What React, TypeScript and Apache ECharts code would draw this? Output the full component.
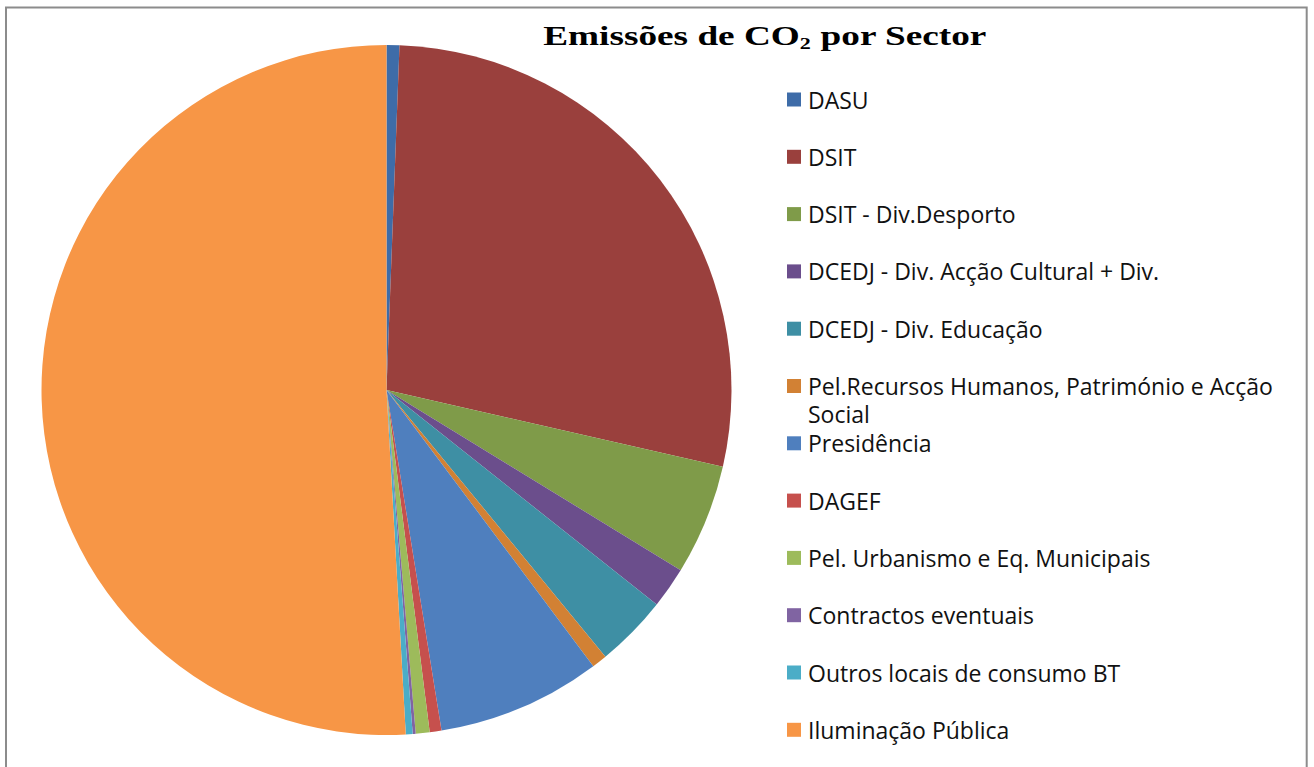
import React, { useEffect, useRef } from "react";
import * as echarts from "echarts";

// Sector names, in drawing order (clockwise from 12 o'clock)
const sectors: string[] = [
  "DASU",
  "DSIT",
  "DSIT - Div.Desporto",
  "DCEDJ - Div. Acção Cultural + Div.",
  "DCEDJ - Div. Educação",
  "Pel.Recursos Humanos, Património e Acção Social",
  "Presidência",
  "DAGEF",
  "Pel. Urbanismo e Eq. Municipais",
  "Contractos eventuais",
  "Outros locais de consumo BT",
  "Iluminação Pública",
];

// Share of CO2 emissions per sector (%)
const emissions: number[] = [
  0.6, 27.97, 5.18, 1.93, 3.38, 0.71, 7.68, 0.55, 0.65, 0.14, 0.32, 50.89,
];

const sliceColors: string[] = [
  "#3E6CA8",
  "#9A403D",
  "#7F9B49",
  "#6B4E8C",
  "#3E8FA4",
  "#D28134",
  "#4F7FBE",
  "#C6504D",
  "#9DBB5B",
  "#8064A2",
  "#4BADC7",
  "#F79646",
];

const WRAPPED = "Pel.Recursos Humanos, Património e Acção Social";

export default function App() {
  const ref = useRef<HTMLDivElement>(null);

  useEffect(() => {
    if (!ref.current) return;
    const chart = echarts.init(ref.current, undefined, { renderer: "svg" });
    const legendFont = "'Open Sans', Lato, sans-serif";
    const serif = "'Liberation Serif', 'Times New Roman', serif";
    chart.setOption({
      animation: false,
      backgroundColor: "#ffffff",
      legend: {
        orient: "vertical",
        left: 787,
        top: 88,
        padding: 0,
        itemWidth: 14,
        itemHeight: 14,
        itemGap: 34.3,
        icon: "rect",
        selectedMode: false,
        data: sectors,
        formatter: (name: string) =>
          name === WRAPPED ? "Pel.Recursos Humanos, Património e Acção" : name,
        textStyle: {
          fontFamily: legendFont,
          fontSize: 23,
          lineHeight: 23,
          color: "#111111",
          padding: [0, 0, 0, 2],
        },
      },
      graphic: [
        {
          type: "rect",
          silent: true,
          z: 100,
          shape: { x: 6, y: 7.5, width: 1300.7, height: 800 },
          style: { fill: "none", stroke: "#8c8c8c", lineWidth: 2 },
        },
        {
          type: "text",
          x: 765,
          y: 36,
          scaleX: 1.38,
          silent: true,
          style: {
            text: "{a|Emissões de CO}{s|2}{a| por Sector}",
            align: "center",
            verticalAlign: "middle",
            rich: {
              a: {
                fontFamily: serif,
                fontWeight: "bold",
                fontSize: 27,
                fill: "#000000",
                lineHeight: 32,
              },
              s: {
                fontFamily: serif,
                fontWeight: "bold",
                fontSize: 16,
                fill: "#000000",
                lineHeight: 16,
                verticalAlign: "bottom",
              },
            },
          },
        },
        {
          type: "text",
          x: 808,
          y: 414,
          silent: true,
          style: {
            text: "Social",
            fontFamily: legendFont,
            fontSize: 23,
            lineHeight: 20,
            fill: "#111111",
            verticalAlign: "middle",
          },
        },
      ],
      series: [
        {
          type: "pie",
          center: [386.5, 390],
          radius: [0, 345],
          startAngle: 90,
          clockwise: true,
          label: { show: false },
          labelLine: { show: false },
          itemStyle: { borderWidth: 0 },
          emphasis: { disabled: true },
          data: sectors.map((name, i) => ({
            name,
            value: emissions[i],
            itemStyle: { color: sliceColors[i] },
          })),
        },
      ],
    });
    return () => chart.dispose();
  }, []);

  return (
    <div
      ref={ref}
      style={{ position: "absolute", left: 0, top: 0, width: 1314, height: 767 }}
    />
  );
}
